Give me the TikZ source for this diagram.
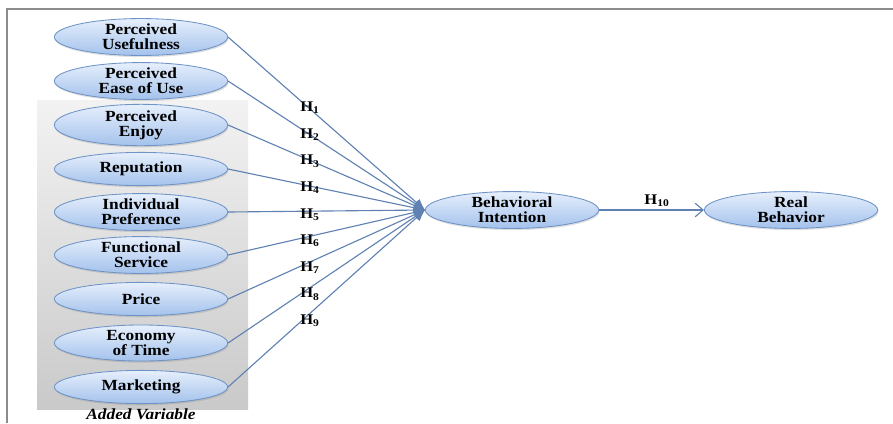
\documentclass[tikz,border=0pt]{standalone}
\usepackage{fontspec}
\setmainfont{Liberation Serif}[FakeStretch=1.12]
\usepackage{tikz}
\usetikzlibrary{arrows.meta,shadows,shapes.geometric}
\definecolor{linkblue}{HTML}{5F82B2}
\definecolor{rimblue}{HTML}{6E93C6}
\definecolor{topblue}{HTML}{E6EFFC}
\definecolor{botblue}{HTML}{A4C2EC}
\definecolor{framegray}{HTML}{8C8C8C}
\newcommand{\hyp}[1]{\textbf{H}\textsubscript{\textbf{#1}}}
\tikzset{
  var/.style={ellipse, draw=rimblue, semithick, top color=topblue, bottom color=botblue,
              minimum width=4.33cm, minimum height=0.83cm, inner sep=0pt, align=center,
              font=\fontsize{11}{10.8}\selectfont\bfseries,
              drop shadow={shadow xshift=0.6pt, shadow yshift=-1.2pt, opacity=.25}}, % latent variable
  hl/.style={draw=linkblue, thick, -{Latex[length=2.8mm, width=2.4mm]}},         % hypothesis link
  ol/.style={draw=linkblue, thick, -{Straight Barb[length=2mm, width=3.4mm]}},    % outcome link
  hlab/.style={font=\fontsize{10.5}{11}\selectfont, anchor=west, inner sep=0pt},
}
\begin{document}
\begin{tikzpicture}[x=0.025cm, y=-0.025cm]
  \useasboundingbox (0,0) rectangle (893,423);
  % frame and group box
  \draw[framegray, line width=0.9pt] (893,9) -- (7,9) -- (7,423);
  \fill[top color=gray!10, bottom color=gray!42] (37,100) rectangle (248,409);
  \node[font=\fontsize{11}{11}\selectfont\bfseries\itshape, inner sep=0pt] (added) at (141,414) {Added Variable};
  % factors
  \node[var] (pu)  at (141,37)  {Perceived\\Usefulness};
  \node[var] (pe)  at (141,81)  {Perceived\\Ease of Use};
  \node[var] (pj)  at (141,125) {Perceived\\Enjoy};
  \node[var] (rep) at (141,169) {Reputation};
  \node[var] (ip)  at (141,212) {Individual\\Preference};
  \node[var] (fs)  at (141,255) {Functional\\Service};
  \node[var] (pr)  at (141,299) {Price};
  \node[var] (et)  at (141,343) {Economy\\of Time};
  \node[var] (mk)  at (141,387) {Marketing};
  \node[var] (bi)  at (512,210) {Behavioral\\Intention};
  \node[var] (rb)  at (791,210) {Real\\Behavior};
  % hypotheses
  \foreach \s [count=\i] in {pu,pe,pj,rep,ip,fs,pr,et,mk} {
    \draw[hl] (\s.east) -- (bi.west);
    \node[hlab] (h\i) at (300,{108+26.6*(\i-1)}) {\hyp{\i}};
  }
  \draw[ol] (bi) -- (rb);
  \node[hlab, anchor=center] (h10) at (657,201) {\hyp{10}};
\end{tikzpicture}
\end{document}
